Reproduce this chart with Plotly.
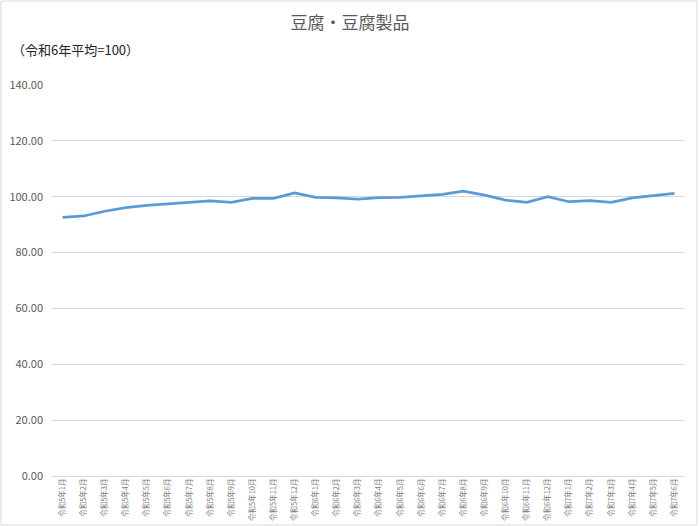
import plotly.graph_objects as go

title = "豆腐・豆腐製品"
unit_note = "（令和6年平均=100）"

months = (
    [f"令和5年{m}月" for m in range(1, 13)]
    + [f"令和6年{m}月" for m in range(1, 13)]
    + [f"令和7年{m}月" for m in range(1, 7)]
)
index_values = [
    92.6, 93.1, 94.8, 96.1, 96.9, 97.5, 98.0, 98.5, 98.0, 99.4, 99.4, 101.4,
    99.8, 99.6, 99.1, 99.7, 99.8, 100.2, 100.8, 102.0, 100.6, 98.8, 98.0, 100.0,
    98.2, 98.6, 98.0, 99.6, 100.4, 101.2,
]
y_ticks = [0, 20, 40, 60, 80, 100, 120, 140]

font_jp = "Noto Sans CJK JP"

# plot area in px: x 52..685, y 85..476
fig = go.Figure()
fig.add_trace(
    go.Scatter(
        x=months,
        y=index_values,
        mode="lines",
        line={"color": "#5B9BD5", "width": 2.75},
        showlegend=False,
        hoverinfo="skip",
    )
)

fig.update_layout(
    width=700,
    height=526,
    paper_bgcolor="white",
    plot_bgcolor="white",
    margin={"l": 52, "r": 15, "t": 85, "b": 50},
    font={"family": font_jp, "color": "#595959"},
    title={
        "text": title,
        "x": 0.5,
        "xanchor": "center",
        "y": 1 - 23 / 526,
        "yanchor": "middle",
        "font": {"size": 17, "color": "#595959", "family": font_jp},
    },
    annotations=[
        {
            "text": unit_note,
            "xref": "paper",
            "yref": "paper",
            "x": -42 / 633,
            "y": 1.0 + (85 - 50) / 391,
            "xanchor": "left",
            "yanchor": "middle",
            "showarrow": False,
            "font": {"size": 13, "color": "#222222", "family": font_jp},
        }
    ],
    shapes=[
        {
            "type": "rect",
            "xref": "paper",
            "yref": "paper",
            "x0": -51 / 633,
            "x1": 1 + 12 / 633,
            "y0": -49 / 391,
            "y1": 1 + 84 / 391,
            "line": {"color": "#D9D9D9", "width": 1},
        }
    ],
)

fig.update_xaxes(
    type="category",
    range=[-0.5, len(months) - 0.5],
    tickangle=-90,
    tickfont={"size": 7.5, "color": "#808080", "family": font_jp},
    showgrid=False,
    showline=False,
    ticks="",
    automargin=False,
)
fig.update_yaxes(
    range=[0, 140],
    tickvals=y_ticks,
    tickformat=".2f",
    tickfont={"size": 11, "color": "#595959", "family": font_jp},
    showgrid=True,
    gridcolor="#D9D9D9",
    gridwidth=1,
    zeroline=True,
    zerolinecolor="#D9D9D9",
    zerolinewidth=1,
    showline=False,
    ticks="",
    ticklabelstandoff=8,
    automargin=False,
)

fig.write_html(
    "out.html",
    config={"displayModeBar": False},
    post_script="document.body.style.margin = '0';",
)
